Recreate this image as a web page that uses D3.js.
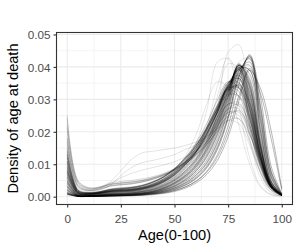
<!DOCTYPE html>
<html>
<head>
<meta charset="utf-8">
<script src="https://cdn.jsdelivr.net/npm/d3@7"></script>
<style>
	body { margin: 0; background: #fff; }
	svg { display: block; font-family: "Liberation Sans", Arial, sans-serif; }
	.tick-label { fill: #4d4d4d; font-size: 11.7px; }
	.axis-title { fill: #000; font-size: 14.6px; }
</style>
</head>
<body>
<svg id="chart"></svg>
<script>

var ages = [0, 5, 10, 15, 20, 25, 30, 35, 40, 45, 50, 55, 60, 65, 70, 75, 80, 85, 90, 95, 100];

var xTicks = [0, 25, 50, 75, 100];
var yTicks = [0, 0.01, 0.02, 0.03, 0.04, 0.05];

// recent years: low infant mortality, late and high peak
var recentCurves = [
	[.0012,.0001,.0001,.0002,.0003,.0004,.0005,.0007,.0011,.0017,.0027,.0042,.0065,.0102,.0165,.0265,.0385,.0425,.025,.0065,.0006],
	[.0018,.0002,.0001,.0002,.0004,.0005,.0006,.0009,.0013,.0021,.0033,.0052,.008,.0125,.0195,.029,.0395,.039,.021,.005,.0005],
	[.0025,.0003,.0002,.0003,.0005,.0006,.0007,.001,.0015,.0024,.0038,.0059,.009,.0138,.021,.0305,.0405,.0365,.018,.0042,.0005],
	[.0035,.0004,.0002,.0004,.0007,.0008,.0009,.0012,.0018,.0028,.0044,.0067,.0101,.0152,.0228,.0322,.0405,.0335,.0155,.0035,.0004],
	[.0045,.0005,.0003,.0005,.0008,.0009,.0011,.0015,.0021,.0032,.005,.0075,.0112,.0166,.0245,.0335,.0395,.031,.0135,.003,.0004],
	[.0008,.0001,.0001,.0001,.0002,.0003,.0004,.0006,.0009,.0014,.0022,.0035,.0055,.0088,.0145,.024,.0365,.0435,.0285,.008,.0008],
	[.001,.0001,.0001,.0002,.0003,.0004,.0005,.0007,.001,.0016,.0025,.0039,.006,.0095,.0155,.025,.0375,.043,.0265,.0072,.0007],
	[.0022,.0002,.0002,.0003,.0005,.0006,.0007,.0009,.0014,.0022,.0035,.0055,.0085,.0131,.0203,.0298,.0402,.0378,.0195,.0046,.0005],
	[.003,.0003,.0002,.0004,.0006,.0007,.0008,.0011,.0016,.0026,.0041,.0063,.0095,.0145,.0218,.0312,.041,.035,.0165,.0038,.0004],
	[.0015,.0002,.0001,.0002,.0004,.0004,.0005,.0008,.0012,.0019,.003,.0047,.0072,.0112,.018,.0278,.0392,.0405,.023,.0058,.0006],
	[.004,.0004,.0003,.0005,.0007,.0008,.001,.0014,.002,.003,.0047,.0071,.0106,.0159,.0236,.0328,.0398,.0322,.0145,.0033,.0004],
	[.0006,.0001,.0001,.0001,.0002,.0003,.0003,.0005,.0008,.0012,.0019,.003,.0048,.0078,.013,.0218,.0345,.0438,.031,.0095,.001],
	[.002,.0002,.0001,.0003,.0004,.0005,.0006,.0009,.0013,.002,.0032,.005,.0078,.0121,.019,.0286,.0398,.039,.0205,.0048,.0005],
	[.0028,.0003,.0002,.0003,.0005,.0006,.0008,.0011,.0016,.0025,.004,.0061,.0092,.0141,.0214,.0309,.0405,.0358,.0172,.004,.0005],
	[.005,.0005,.0003,.0006,.0009,.001,.0012,.0016,.0023,.0035,.0053,.0079,.0117,.0172,.0252,.034,.039,.0298,.0128,.0028,.0004],
	[.0013,.0001,.0001,.0002,.0003,.0004,.0005,.0007,.0011,.0017,.0027,.0043,.0067,.0105,.017,.027,.0388,.0415,.0242,.0062,.0006],
	[.0009,.0001,.0001,.0001,.0002,.0003,.0004,.0006,.0009,.0014,.0023,.0036,.0057,.0091,.015,.0245,.037,.0432,.0278,.0078,.0008],
	[.0033,.0003,.0002,.0004,.0006,.0007,.0009,.0012,.0017,.0027,.0043,.0065,.0098,.0148,.0222,.0316,.0408,.0345,.016,.0037,.0004],
	[.001,.0001,.0001,.0001,.0002,.0003,.0004,.0005,.0008,.0012,.0019,.003,.0047,.0075,.0122,.02,.031,.0395,.032,.018,.002],
	[.0008,.0001,.0001,.0001,.0002,.0002,.0003,.0004,.0006,.001,.0016,.0026,.0042,.0068,.0112,.0185,.0295,.039,.0335,.0205,.0025]
];

// between mid century and recent
var transitionCurves = [
	[.006,.0008,.0005,.0008,.0012,.0014,.0016,.002,.0028,.004,.006,.0088,.0126,.0178,.0248,.0335,.0392,.0315,.0148,.0036,.0005],
	[.0055,.0007,.0005,.0007,.0011,.0013,.0015,.0019,.0026,.0038,.0057,.0084,.0121,.0172,.0242,.033,.0398,.0322,.0152,.0037,.0005],
	[.0085,.0012,.0008,.0011,.0016,.0018,.002,.0025,.0034,.0049,.0071,.0102,.0143,.0198,.027,.035,.0375,.0275,.0125,.0031,.0005],
	[.0048,.0006,.0004,.0006,.001,.0011,.0013,.0017,.0024,.0035,.0053,.0079,.0115,.0165,.0235,.0325,.04,.0335,.0158,.0038,.0005],
	[.011,.0016,.001,.0013,.0019,.0022,.0025,.003,.004,.0056,.0079,.0112,.0155,.0212,.0285,.0352,.0352,.0245,.0108,.0027,.0004],
	[.0068,.0009,.0006,.0009,.0013,.0015,.0017,.0022,.003,.0043,.0063,.0092,.0131,.0185,.0258,.0345,.0392,.0302,.0138,.0034,.0005],
	[.0095,.0014,.0009,.0012,.0017,.002,.0022,.0027,.0037,.0052,.0075,.0107,.0149,.0205,.0278,.0352,.0365,.0262,.0117,.0029,.0005],
	[.0042,.0005,.0003,.0005,.0009,.001,.0012,.0016,.0022,.0033,.005,.0075,.011,.016,.023,.0322,.0405,.0342,.0162,.0039,.0005],
	[.0075,.0011,.0007,.001,.0014,.0016,.0018,.0023,.0032,.0046,.0067,.0097,.0137,.0192,.0265,.0348,.0385,.029,.0132,.0033,.0005],
	[.013,.0019,.0012,.0015,.0022,.0025,.0028,.0034,.0045,.0061,.0086,.012,.0165,.0225,.0298,.0355,.0335,.0228,.0098,.0025,.0004]
];

// mid century
var middleCurves = [
	[.008,.0012,.0008,.0011,.0017,.0019,.0021,.0026,.0035,.005,.0072,.0102,.0142,.0195,.0262,.0335,.036,.027,.012,.003,.0005],
	[.012,.0018,.0011,.0014,.0021,.0024,.0027,.0033,.0044,.006,.0083,.0115,.0155,.021,.0275,.0335,.0335,.024,.011,.003,.0005],
	[.006,.0009,.0006,.0009,.0014,.0016,.0018,.0023,.0031,.0045,.0066,.0096,.0135,.0188,.0258,.034,.0375,.029,.0135,.0035,.0005],
	[.015,.0022,.0013,.0016,.0024,.0028,.003,.0036,.0047,.0063,.0087,.012,.016,.0215,.028,.033,.031,.021,.009,.0025,.0004],
	[.01,.0015,.001,.0012,.0019,.0021,.0023,.0028,.0037,.0052,.0075,.0106,.0148,.0203,.0272,.034,.035,.025,.011,.003,.0005],
	[.009,.0013,.0009,.0012,.0018,.002,.0022,.0027,.0036,.005,.0072,.0102,.0142,.0196,.0265,.0345,.0365,.0265,.012,.003,.0005],
	[.007,.001,.0007,.001,.0016,.0018,.002,.0025,.0033,.0047,.0068,.0098,.0138,.0192,.0262,.0345,.038,.0285,.0125,.003,.0005],
	[.013,.002,.0012,.0015,.0022,.0025,.0028,.0034,.0045,.0061,.0085,.0117,.0158,.0212,.028,.0335,.0325,.0225,.01,.0028,.0005],
	[.011,.0016,.001,.0013,.002,.0022,.0025,.003,.004,.0055,.0078,.011,.015,.0205,.0272,.0338,.034,.024,.0105,.0028,.0005],
	[.0065,.001,.0007,.001,.0015,.0017,.0019,.0024,.0032,.0046,.0067,.0097,.0137,.019,.026,.0342,.0372,.028,.013,.0034,.0005],
	[.008,.0012,.0008,.0011,.0016,.0018,.002,.0025,.0034,.0048,.007,.01,.0138,.0185,.0245,.031,.0345,.029,.015,.0045,.0008],
	[.014,.002,.0012,.0015,.0023,.0026,.0029,.0035,.0046,.0062,.0086,.0118,.0158,.021,.027,.0315,.031,.024,.012,.0035,.0006],
	[.009,.0014,.0009,.0012,.0018,.002,.0022,.0027,.0036,.0051,.0073,.0104,.0144,.0196,.026,.0325,.0345,.027,.0135,.004,.0007],
	[.0075,.0011,.0008,.0011,.0016,.0018,.002,.0025,.0033,.0047,.0068,.0098,.0138,.0192,.0262,.034,.0365,.0275,.013,.0035,.0006],
	[.012,.0018,.0011,.0014,.0021,.0024,.0027,.0033,.0044,.006,.0083,.0115,.0155,.0208,.0272,.033,.0335,.025,.0118,.0033,.0006],
	[.0105,.0016,.001,.0013,.0019,.0022,.0024,.0029,.0039,.0054,.0077,.0108,.0149,.0203,.0268,.0332,.034,.0255,.012,.0033,.0006]
];

// early years: high infant mortality, flat low peak
var earlyCurves = [
	[.022,.0045,.0025,.0028,.0038,.0042,.0045,.005,.0058,.0068,.0082,.0102,.0128,.016,.0205,.025,.0265,.021,.012,.004,.0008],
	[.025,.005,.0028,.003,.0042,.0047,.005,.0055,.0062,.0072,.0086,.0105,.013,.016,.02,.0235,.024,.019,.0115,.0045,.001],
	[.018,.0035,.002,.0024,.0034,.0038,.0041,.0046,.0054,.0065,.008,.0101,.013,.0168,.0218,.027,.0285,.022,.0115,.0035,.0007],
	[.016,.003,.0018,.0022,.0032,.0036,.0039,.0045,.0054,.0066,.0083,.0106,.0138,.0178,.023,.0285,.029,.0215,.0105,.003,.0006],
	[.021,.0042,.0024,.0027,.0037,.0041,.0044,.0049,.0057,.0068,.0084,.0107,.0137,.0175,.0225,.027,.027,.0195,.0095,.003,.0006],
	[.017,.0032,.0019,.0023,.0033,.0037,.004,.0046,.0055,.0067,.0084,.0108,.014,.0182,.0235,.0285,.028,.02,.0095,.0028,.0006],
	[.024,.0048,.0027,.0029,.0039,.0043,.0046,.0051,.0059,.007,.0085,.0106,.0133,.0168,.0215,.026,.026,.0195,.0105,.0035,.0007]
];

// war years: bump at young adult ages
var warCurves = [
	[.018,.0035,.002,.0025,.0045,.008,.0115,.0135,.014,.0145,.015,.0158,.0168,.0185,.021,.0235,.0225,.016,.0075,.002,.0004],
	[.014,.0025,.0015,.002,.0035,.0065,.009,.0105,.0112,.012,.013,.0145,.016,.0185,.022,.026,.025,.017,.0075,.002,.0004],
	[.02,.004,.0022,.0028,.004,.0058,.0072,.0082,.009,.0098,.0108,.0122,.0142,.017,.021,.0245,.024,.0175,.008,.0022,.0004]
];

// narrow, high peaks
var peakedCurves = [
	[.003,.0004,.0002,.0004,.0007,.0008,.001,.0013,.0018,.0027,.0042,.0065,.0098,.015,.0265,.0445,.0468,.028,.0095,.002,.0003],
	[.006,.0009,.0006,.0009,.0013,.0015,.0017,.0022,.003,.0045,.0068,.0105,.0165,.0265,.0415,.0425,.028,.012,.0035,.0007,.0002],
	[.002,.0002,.0001,.0003,.0005,.0006,.0007,.001,.0014,.0022,.0034,.0052,.008,.0125,.0195,.03,.0415,.0425,.022,.005,.0005],
	[.004,.0006,.0004,.0006,.001,.0012,.0014,.0018,.0025,.0037,.0056,.0086,.0135,.0215,.034,.0428,.036,.018,.006,.0012,.0002],
	[.005,.0007,.0004,.0007,.0011,.0013,.0015,.002,.0027,.004,.006,.009,.0137,.021,.031,.041,.0395,.022,.0075,.0015,.0003],
	[.008,.0012,.0008,.0011,.0016,.0019,.0022,.0028,.0038,.0055,.0082,.0125,.019,.0285,.0355,.0335,.022,.01,.003,.0006,.0002]
];

var width = 300, height = 250;
var panel = {l: 56.5, t: 32.5, r: 292.5, b: 204.5};

var svg = d3.select('#chart').attr('width', width).attr('height', height);

var x = d3.scaleLinear().domain([-5, 105]).range([panel.l, panel.r]);
var yMax = 0.0482;
var yPad = yMax * 0.05;
var y = d3.scaleLinear().domain([-yPad, yMax + yPad]).range([panel.b, panel.t]);

// grid
var grid = svg.append('g');
var xMinor = [12.5, 37.5, 62.5, 87.5];
var yMinor = [0.005, 0.015, 0.025, 0.035, 0.045];

grid.selectAll('.xminor').data(xMinor).enter().append('line')
	.attr('x1', function(d) { return x(d); }).attr('x2', function(d) { return x(d); })
	.attr('y1', panel.t).attr('y2', panel.b)
	.attr('stroke', '#ebebeb').attr('stroke-width', 0.55);
grid.selectAll('.yminor').data(yMinor).enter().append('line')
	.attr('y1', function(d) { return y(d); }).attr('y2', function(d) { return y(d); })
	.attr('x1', panel.l).attr('x2', panel.r)
	.attr('stroke', '#ebebeb').attr('stroke-width', 0.55);
grid.selectAll('.xmajor').data(xTicks).enter().append('line')
	.attr('x1', function(d) { return x(d); }).attr('x2', function(d) { return x(d); })
	.attr('y1', panel.t).attr('y2', panel.b)
	.attr('stroke', '#ebebeb').attr('stroke-width', 1.1);
grid.selectAll('.ymajor').data(yTicks).enter().append('line')
	.attr('y1', function(d) { return y(d); }).attr('y2', function(d) { return y(d); })
	.attr('x1', panel.l).attr('x2', panel.r)
	.attr('stroke', '#ebebeb').attr('stroke-width', 1.1);

// curves
svg.append('clipPath').attr('id', 'clip').append('rect')
	.attr('x', panel.l).attr('y', panel.t)
	.attr('width', panel.r - panel.l).attr('height', panel.b - panel.t);

var line = d3.line()
	.x(function(d, i) { return x(ages[i]); })
	.y(function(d) { return y(d); })
	.curve(d3.curveCatmullRom.alpha(0.5));

var groups = [
	{curves: earlyCurves, opacity: 0.3},
	{curves: warCurves, opacity: 0.22},
	{curves: peakedCurves, opacity: 0.2},
	{curves: middleCurves, opacity: 0.4},
	{curves: transitionCurves, opacity: 0.45},
	{curves: recentCurves, opacity: 0.55}
];

var curveG = svg.append('g').attr('clip-path', 'url(#clip)');
groups.forEach(function(g) {
	curveG.selectAll(null).data(g.curves).enter().append('path')
		.attr('d', line)
		.attr('fill', 'none')
		.attr('stroke', '#000')
		.attr('stroke-opacity', g.opacity)
		.attr('stroke-width', 0.5);
});

// border
svg.append('rect')
	.attr('x', panel.l).attr('y', panel.t)
	.attr('width', panel.r - panel.l).attr('height', panel.b - panel.t)
	.attr('fill', 'none').attr('stroke', '#333').attr('stroke-width', 1.1);

// axes
var xAxis = svg.append('g').attr('transform', 'translate(0,' + panel.b + ')')
	.call(d3.axisBottom(x).tickValues(xTicks).tickSize(3).tickPadding(3).tickFormat(d3.format('d')));
var yAxis = svg.append('g').attr('transform', 'translate(' + panel.l + ',0)')
	.call(d3.axisLeft(y).tickValues(yTicks).tickSize(3).tickPadding(3).tickFormat(d3.format('.2f')));

[xAxis, yAxis].forEach(function(a) {
	a.select('.domain').remove();
	a.selectAll('.tick line').attr('stroke', '#333').attr('stroke-width', 1.1);
	a.selectAll('.tick text').attr('class', 'tick-label').attr('fill', null)
		.style('font-family', '"Liberation Sans", Arial, sans-serif');
});
xAxis.selectAll('.tick text').attr('dy', null).attr('y', 18);
yAxis.selectAll('.tick text').attr('dy', '0.36em').attr('x', -6);

svg.append('text').attr('class', 'axis-title')
	.attr('x', (panel.l + panel.r) / 2).attr('y', 240)
	.attr('text-anchor', 'middle')
	.text('Age(0-100)');

svg.append('text').attr('class', 'axis-title')
	.attr('transform', 'translate(18,' + ((panel.t + panel.b) / 2) + ') rotate(-90)')
	.attr('text-anchor', 'middle')
	.text('Density of age at death');

</script>
</body>
</html>
